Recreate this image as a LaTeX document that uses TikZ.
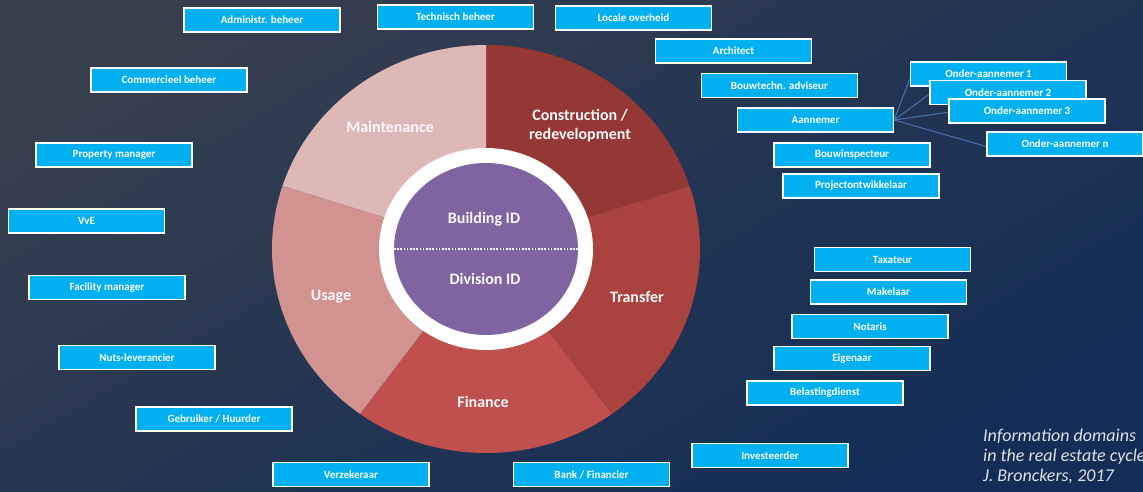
\documentclass[tikz,border=0pt]{standalone}
\usepackage{fontspec}
\setmainfont{Carlito}
\definecolor{bgTL}{RGB}{55,63,79}
\definecolor{bgBR}{RGB}{20,45,86}
\definecolor{boxblue}{RGB}{0,176,240}
\definecolor{cMaint}{RGB}{222,184,183}
\definecolor{cConstr}{RGB}{149,55,53}
\definecolor{cTrans}{RGB}{170,67,64}
\definecolor{cFin}{RGB}{192,80,77}
\definecolor{cUsage}{RGB}{209,146,144}
\definecolor{cPurple}{RGB}{128,100,162}
\definecolor{linkblue}{RGB}{74,114,176}
\definecolor{captiongray}{RGB}{222,224,228}
\tikzset{
  rolebox/.style={draw=white, line width=1.1pt, fill=boxblue, text=white,
    minimum width=156pt, minimum height=24pt, inner sep=0pt,
    font=\fontsize{11}{12}\selectfont\bfseries},
  seglabel/.style={text=white!95!gray, font=\fontsize{16}{19}\selectfont\bfseries, align=center},
  idlabel/.style={text=white!96!gray, font=\fontsize{16}{19}\selectfont\bfseries},
  link/.style={draw=linkblue, line width=1pt},
  caption/.style={text=captiongray, anchor=base west, inner sep=0pt,
    font=\fontsize{18}{20}\selectfont\itshape}
}
\begin{document}
\begin{tikzpicture}[x=1pt, y=-1pt]
\useasboundingbox (0,0) rectangle (1143,492);
\shade[top color=bgTL, bottom color=bgBR, middle color=bgTL!45!bgBR, shading angle=30]
  (0,0) rectangle (1143,492);

% donut
\begin{scope}[shift={(486,249)}, y=1pt]
  \fill[cConstr] (0,0) -- (18:214 and 204) arc[start angle=18, end angle=90, x radius=214, y radius=204] -- cycle;
  \fill[cMaint] (0,0) -- (90:214 and 204) arc[start angle=90, end angle=162, x radius=214, y radius=204] -- cycle;
  \fill[cUsage] (0,0) -- (162:214 and 204) arc[start angle=162, end angle=234, x radius=214, y radius=204] -- cycle;
  \fill[cFin] (0,0) -- (234:214 and 204) arc[start angle=234, end angle=306, x radius=214, y radius=204] -- cycle;
  \fill[cTrans] (0,0) -- (306:214 and 204) arc[start angle=306, end angle=378, x radius=214, y radius=204] -- cycle;
  \fill[white] (0,0) ellipse[x radius=107, y radius=101];
  \fill[cPurple] (0,0) ellipse[x radius=92, y radius=86];
  \coordinate (dl) at (-92,0);
  \coordinate (dr) at (92,0);
\end{scope}
\draw[white, line width=1.6pt, dash pattern=on 1.6pt off 1.6pt] (dl) -- (dr);

\node[seglabel, text=white!92!cMaint] (maint) at (390,127) {Maintenance};
\node[seglabel] (constr) at (580,126) {Construction /\\redevelopment};
\node[seglabel] (transfer) at (637,297) {Transfer};
\node[seglabel] (finance) at (483,402) {Finance};
\node[seglabel] (usage) at (331,297) {Usage};
\node[idlabel] (bid) at (484,219) {Building ID};
\node[idlabel] (did) at (485,279) {Division ID};

% connectors (behind boxes)
\node[rolebox] (aann) at (815.5,120) {Aannemer};
\coordinate (t1) at (911,76);
\coordinate (t2) at (931,93);
\coordinate (t3) at (950,112);
\coordinate (tn) at (988,147);
\draw[link] (aann.east) -- (t1);
\draw[link] (aann.east) -- (t2);
\draw[link] (aann.east) -- (t3);
\draw[link] (aann.east) -- (tn);

% boxes
\node[rolebox] (adm) at (262,20) {Administr. beheer};
\node[rolebox] (tech) at (455.5,17) {Technisch beheer};
\node[rolebox] (loc) at (633.5,18) {Locale overheid};
\node[rolebox] (arch) at (733.5,51) {Architect};
\node[rolebox] (bouwt) at (779.5,85.5) {Bouwtechn. adviseur};
\node[rolebox] (oa1) at (988.5,74) {Onder-aannemer 1};
\node[rolebox] (oa2) at (1008,92.5) {Onder-aannemer 2};
\node[rolebox] (oa3) at (1027,111) {Onder-aannemer 3};
\node[rolebox] (oan) at (1065,144) {Onder-aannemer n};
\node[rolebox] (bi) at (852,155) {Bouwinspecteur};
\node[rolebox] (proj) at (861,186) {Projectontwikkelaar};
\node[rolebox] (comm) at (169,80) {Commercieel beheer};
\node[rolebox] (prop) at (114,155) {Property manager};
\node[rolebox] (vve) at (86.5,221) {VvE};
\node[rolebox] (fac) at (107,287.5) {Facility manager};
\node[rolebox] (nuts) at (137,357.5) {Nuts-leverancier};
\node[rolebox] (geb) at (214,419) {Gebruiker / Huurder};
\node[rolebox] (verz) at (351,474.5) {Verzekeraar};
\node[rolebox] (bank) at (591.5,474.5) {Bank / Financier};
\node[rolebox] (inv) at (770,455.5) {Investeerder};
\node[rolebox] (tax) at (892.5,259.5) {Taxateur};
\node[rolebox] (mak) at (888.5,292) {Makelaar};
\node[rolebox] (not) at (870,326.5) {Notaris};
\node[rolebox] (eig) at (852,358.5) {Eigenaar};
\node[rolebox] (bel) at (825,393) {Belastingdienst};

% caption
\node[caption] (cap1) at (983,441) {Information domains};
\node[caption] (cap2) at (983,461) {in the real estate cycle};
\node[caption] (cap3) at (983,481) {J. Bronckers, 2017};
\end{tikzpicture}
\end{document}
